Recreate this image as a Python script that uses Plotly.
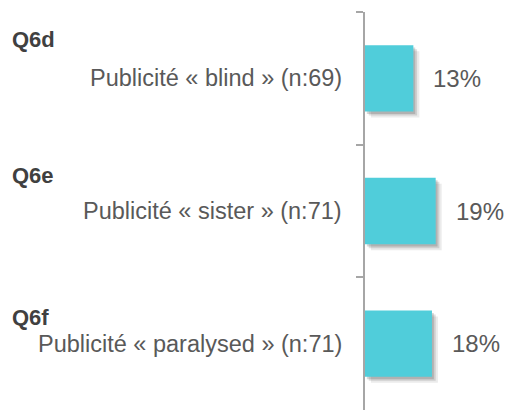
import plotly.graph_objects as go

codes = ["Q6d", "Q6e", "Q6f"]
labels = ["Publicité « blind » (n:69)", "Publicité « sister » (n:71)", "Publicité « paralysed » (n:71)"]
values = [13, 19, 18]
value_text = ["13%", "19%", "18%"]

BAR = "#50CDDA"
FONT = "Liberation Sans, Arial, sans-serif"

fig = go.Figure()
# soft drop shadow (layers)
for dx, dy, op in [(1.6, 0.045, 0.10), (1.0, 0.03, 0.16), (0.5, 0.018, 0.20)]:
    fig.add_trace(go.Bar(
        y=codes, x=values, base=dx, orientation="h", width=0.5, offset=-0.25 + dy,
        marker=dict(color=f"rgba(60,60,60,{op})", line=dict(width=0)),
        hoverinfo="skip", showlegend=False))
fig.add_trace(go.Bar(
    y=codes, x=values, orientation="h", width=0.5,
    marker=dict(color=BAR, line=dict(width=0)), showlegend=False))

for c, l, v, t, qs in zip(codes, labels, values, value_text, [39, 36, 26]):
    fig.add_annotation(x=v, y=c, text=t, xanchor="left", xshift=18, showarrow=False,
                       font=dict(family=FONT, size=24, color="#595959"))
    fig.add_annotation(x=0, xref="paper", y=c, text=l, xanchor="right", xshift=-21,
                       showarrow=False, font=dict(family=FONT, size=23.5, color="#595959"))
    fig.add_annotation(x=0, xref="paper", y=c, text=f"<b>{c}</b>", xanchor="left",
                       xshift=-355, yshift=qs, showarrow=False,
                       font=dict(family=FONT, size=22, color="#404040"))

fig.update_layout(
    width=506, height=410, margin=dict(l=365, r=0, t=12, b=0),
    paper_bgcolor="white", plot_bgcolor="white", barmode="overlay",
    xaxis=dict(range=[0, 141 / 3.72], visible=False),
    yaxis=dict(type="category", range=[2.5, -0.5], tickson="boundaries",
               showticklabels=False, showline=True, linecolor="#A6A6A6", linewidth=2,
               ticks="outside", ticklen=7, tickcolor="#A6A6A6", tickwidth=2,
               showgrid=False, zeroline=False),
)
fig.write_html("out.html")
